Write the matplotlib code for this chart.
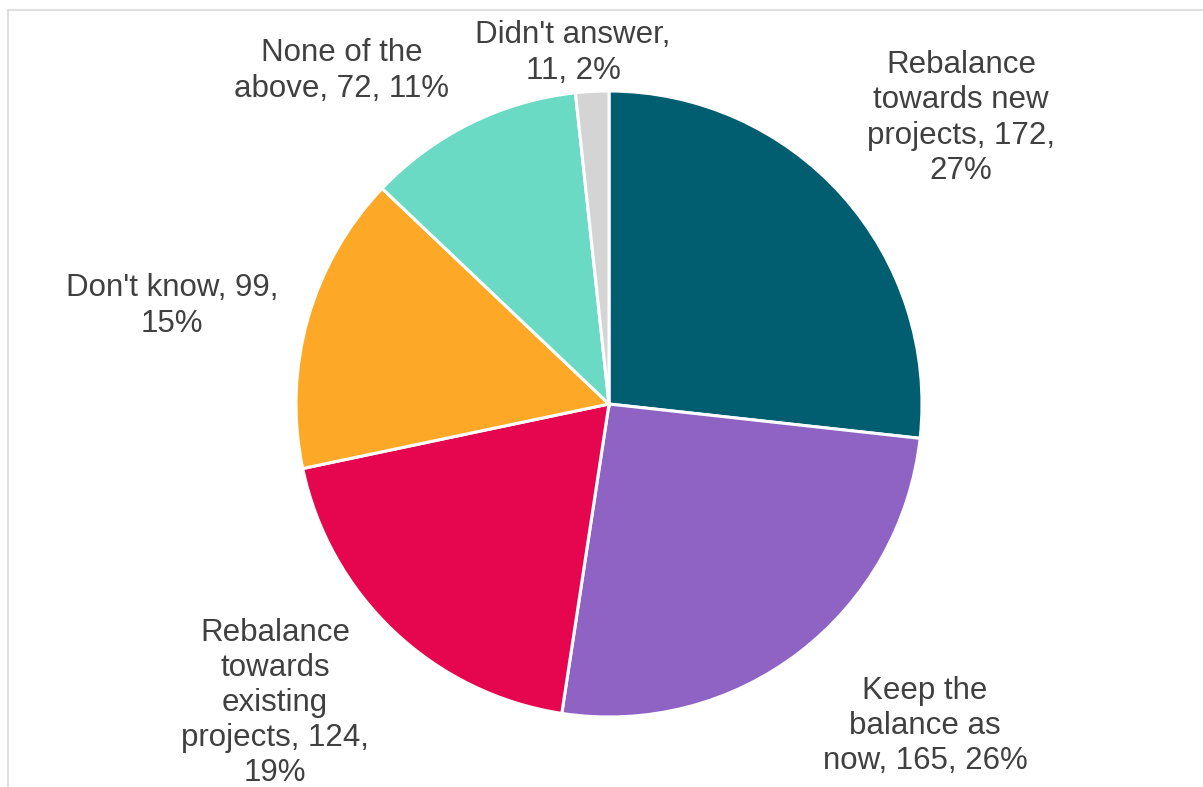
import matplotlib.pyplot as plt
from matplotlib.lines import Line2D

# datos del grafico
categorias = ["Rebalance towards new projects", "Keep the balance as now",
              "Rebalance towards existing projects", "Don't know",
              "None of the above", "Didn't answer"]
valores = [172, 165, 124, 99, 72, 11]
etiquetas = ["Rebalance\ntowards new\nprojects, 172,\n27%",
             "Keep the\nbalance as\nnow, 165, 26%",
             "Rebalance\ntowards\nexisting\nprojects, 124,\n19%",
             "Don't know, 99,\n15%",
             "None of the\nabove, 72, 11%",
             "Didn't answer,\n11, 2%"]
colores = ["#005E70", "#8F63C4", "#E6054F", "#FDA827", "#6ADAC5", "#D4D4D4"]

# posiciones de las etiquetas (pixeles, origen abajo a la izquierda)
pos_etiquetas = [(961, 669), (925, 61), (275, 84), (172, 481), (342, 716), (573, 734)]

W, H = 1203, 787
fig = plt.figure(figsize=(W / 100, H / 100), dpi=100)
ax = fig.add_axes([0, 0, 1, 1])
ax.set_xlim(0, W)
ax.set_ylim(0, H)
ax.axis("off")

ax.pie(valores, colors=colores, startangle=90, counterclock=False,
       radius=313, center=(609, H - 404),
       wedgeprops=dict(edgecolor="white", linewidth=2.2), frame=False)
ax.set_xlim(0, W)
ax.set_ylim(0, H)
ax.set_aspect("equal")

for txt, (x, y) in zip(etiquetas, pos_etiquetas):
    ax.text(x, y, txt, ha="center", va="center", fontsize=22.5,
            family="Liberation Sans", color="#404040", linespacing=1.22)

# borde del area del grafico (recortado a la derecha y abajo)
fig.add_artist(Line2D([7.5 / W, 7.5 / W], [0, 1 - 10 / H], color="#D9D9D9", lw=1.2,
                      transform=fig.transFigure))
fig.add_artist(Line2D([7.5 / W, 1], [1 - 10 / H, 1 - 10 / H], color="#D9D9D9", lw=1.2,
                      transform=fig.transFigure))

fig.savefig("out.png", dpi=100)
